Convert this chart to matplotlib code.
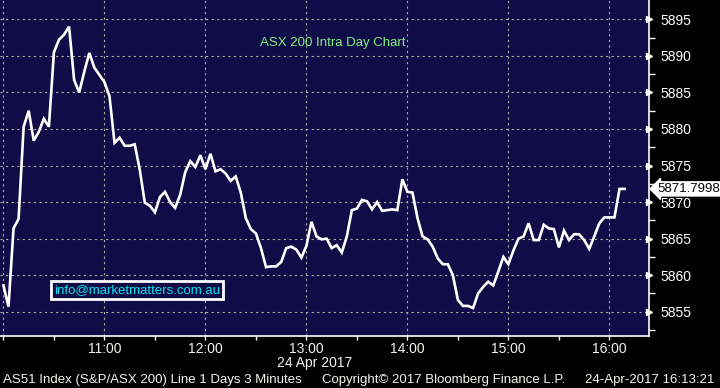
import numpy as np
import matplotlib
matplotlib.use("Agg")
import matplotlib.pyplot as plt

# ASX 200 intraday, 3 minute bars from 10:00
start_hour = 10.0
step_min = 3
prices = [
    5858.6, 5855.7, 5866.4, 5867.7, 5880.3, 5882.5, 5878.4, 5879.6, 5881.4, 5880.3,
    5890.5, 5892.2, 5892.9, 5894.0, 5886.7, 5885.0, 5887.8, 5890.4, 5888.4, 5887.4,
    5886.4, 5884.5, 5878.1, 5878.8, 5877.7, 5877.7, 5877.9, 5874.4, 5869.9, 5869.5,
    5868.6, 5870.7, 5871.4, 5870.0, 5869.2, 5871.0, 5874.1, 5875.6, 5874.8, 5876.4,
    5874.5, 5876.6, 5874.2, 5874.5, 5873.9, 5872.9, 5873.5, 5871.3, 5867.8, 5866.3,
    5865.7, 5863.7, 5861.1, 5861.2, 5861.2, 5861.8, 5863.7, 5863.9, 5863.5, 5862.4,
    5864.0, 5867.3, 5865.3, 5864.9, 5865.0, 5863.7, 5864.1, 5863.1, 5865.3, 5868.9,
    5869.1, 5870.3, 5870.1, 5869.0, 5870.0, 5868.8, 5868.9, 5869.0, 5868.9, 5873.1,
    5871.4, 5871.3, 5867.8, 5865.3, 5864.9, 5863.9, 5862.3, 5861.5, 5861.5, 5860.0,
    5856.6, 5855.8, 5855.8, 5855.5, 5857.5, 5858.4, 5859.1, 5858.6, 5860.5, 5862.5,
    5861.5, 5863.4, 5865.0, 5865.3, 5867.1, 5864.8, 5864.8, 5866.9, 5866.4, 5866.3,
    5863.8, 5866.1, 5864.8, 5865.6, 5865.6, 5864.8, 5863.6, 5865.3, 5867.1, 5867.9,
    5867.9, 5867.9, 5871.8, 5871.7998,
]
hour_ticks = [10, 11, 12, 13, 14, 15, 16]
hour_labels = ["", "11:00", "12:00", "13:00", "14:00", "15:00", "16:00"]
y_ticks = [5855, 5860, 5865, 5870, 5875, 5880, 5885, 5890, 5895]

times = start_hour + np.arange(len(prices)) * step_min / 60.0

bg = "#0f0c47"
fig = plt.figure(figsize=(7.2, 3.88), dpi=100, facecolor="black")
ax = fig.add_axes([0, 52 / 388, 649 / 720, 336 / 388])
ax.set_facecolor(bg)

ax.plot(times, prices, color="white", lw=1.9, solid_joinstyle="miter")

ax.set_xlim(9.966, 16.392)
ax.set_ylim(5851.68, 5897.64)

ax.set_xticks(hour_ticks)
ax.set_xticklabels(hour_labels)
ax.set_xticks(np.array(hour_ticks[:-1]) + 0.5, minor=True)
ax.set_yticks(y_ticks)
ax.set_yticks(np.array(y_ticks) - 2.5, minor=True)

ax.grid(True, which="major", color="#b0b0a0", ls=(0, (2, 3)), lw=0.8)

for s in ["top", "left"]:
    ax.spines[s].set_visible(False)
for s in ["right", "bottom"]:
    ax.spines[s].set_color("white")
    ax.spines[s].set_linewidth(1.2)

ax.yaxis.tick_right()
ax.tick_params(axis="x", which="both", colors="white", length=3, width=1,
               labelcolor="#f4f4e8", labelsize=10, pad=1)
ax.tick_params(axis="y", which="both", colors="white", length=4, width=1,
               labelcolor="white", labelsize=10, pad=4)
for t in ax.yaxis.get_major_ticks():
    t.tick2line.set_marker(">")
    t.tick2line.set_markersize(5)
for lab in ax.get_xticklabels() + ax.get_yticklabels():
    lab.set_family("Liberation Sans")

ax.text(0.512, 0.873, "ASX 200 Intra Day Chart", transform=ax.transAxes,
        color="#80f080", fontsize=9.5, family="Liberation Sans", ha="center", va="center")
ax.text(0.083, 0.137, "info@marketmatters.com.au", transform=ax.transAxes,
        color="#10e0f0", fontsize=9.5, family="Liberation Sans", ha="left", va="center",
        bbox=dict(boxstyle="square,pad=0.2", fc=bg, ec="white", lw=2))

ax.annotate(f"{prices[-1]:.4f}", xy=(1.0, prices[-1]), xycoords=("axes fraction", "data"),
            xytext=(6, 0), textcoords="offset points", ha="left", va="center",
            fontsize=9.5, family="Liberation Sans", color="black", annotation_clip=False,
            bbox=dict(boxstyle="larrow,pad=0.08", fc="white", ec="white"))

fig.text(352 / 720, 1 - 363 / 388, "24 Apr 2017", color="#f4f4e8", fontsize=10,
         family="Liberation Sans", ha="right", va="center")
fig.text(3 / 720, 1 - 380 / 388, "AS51 Index (S&P/ASX 200) Line 1 Days 3 Minutes",
         color="#f4f4e8", fontsize=9.5, family="Liberation Sans", ha="left", va="center")
fig.text(322 / 720, 1 - 380 / 388, "Copyright\u00a9 2017 Bloomberg Finance L.P.",
         color="#f4f4e8", fontsize=9.5, family="Liberation Sans", ha="left", va="center")
fig.text(714 / 720, 1 - 380 / 388, "24-Apr-2017 16:13:21",
         color="#f4f4e8", fontsize=9.5, family="Liberation Sans", ha="right", va="center")

fig.savefig("out.png", dpi=100, facecolor="black")
